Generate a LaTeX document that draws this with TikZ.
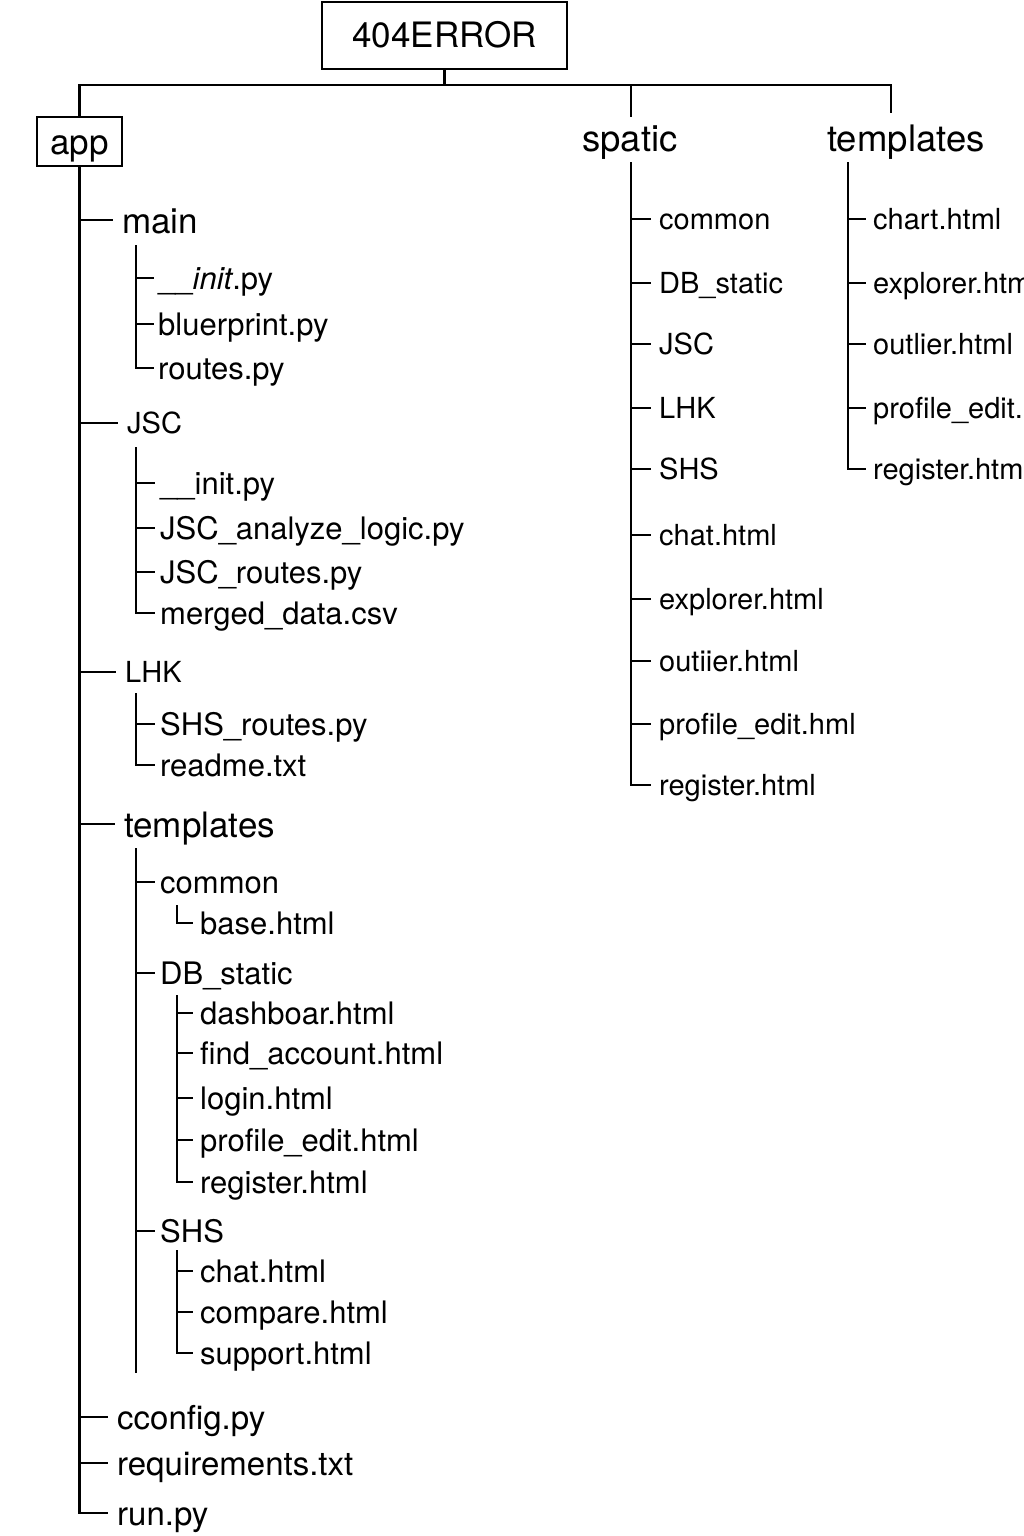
\documentclass[tikz,border=0pt]{standalone}
\usepackage{fontspec}
\setmainfont{TeX Gyre Heros}
\usetikzlibrary{positioning,calc}
\newcommand{\fbig}{\fontsize{35}{40}\selectfont}
\newcommand{\ftop}{\fontsize{36.5}{42}\selectfont}
\newcommand{\ftail}{\fontsize{33}{38}\selectfont}
\newcommand{\ffile}{\fontsize{31}{36}\selectfont}
\newcommand{\fitem}{\fontsize{29}{34}\selectfont}

\begin{document}
\begin{tikzpicture}[x=1pt,y=-1pt,
    lbl/.style={inner sep=0pt,anchor=west},
    dir/.style={lbl,font=\fbig,text height=33pt,text depth=7pt},
    tail/.style={lbl,font=\ftail,text height=31pt,text depth=6.6pt},
    lf/.style={lbl,font=\ffile,text height=29.5pt,text depth=6.2pt},
    fl/.style={lbl,font=\fitem,text height=27.5pt,text depth=5.8pt},
    boxed/.style={draw,line width=1.8pt,inner sep=0pt,font=\fbig,text height=25pt,text depth=0pt},
    trunk/.style={line width=2.8pt},
    twig/.style={line width=1.8pt}
]
\useasboundingbox (0,0) rectangle (1024,1536);

% top level
\node[boxed,minimum width=245pt,minimum height=67pt] (root) at (444.5,35.5) {404ERROR};
\node[boxed,minimum width=85pt,minimum height=49pt] (app) at (79.5,141.5) {app};
\node[lbl,font=\ftop,anchor=center,text height=34.7pt,text depth=7.3pt] (spatic) at (630,138) {spatic};
\node[lbl,font=\ftop,anchor=center,text height=34.7pt,text depth=7.3pt] (tplR) at (906,138) {templates};
\coordinate (bar) at (443,85);
\coordinate (spTop) at (631,117);
\coordinate (tpTop) at (891,113);
\draw[twig,line width=2.2pt] (root.south) -- (root.south |- bar);
\draw[twig,line width=2.2pt] (app.north) |- (bar) -| (tpTop);
\draw[twig,line width=2.2pt] (spTop) -- (spTop |- bar);

% app
\node[dir] (main) at (122,220) {main};
\node[lf] (initA) at (158,278) {\_\_\textit{init}.py};
\node[lf] (blue) at (158,324) {bluerprint.py};
\node[lf] (routes) at (158,368) {routes.py};
\node[fl] (jsc) at (127,423) {JSC};
\node[lf] (initB) at (160,483) {\_\_init.py};
\node[lf] (anal) at (160,528) {JSC\_analyze\_logic.py};
\node[lf] (jroutes) at (160,572) {JSC\_routes.py};
\node[lf] (merged) at (160,613) {merged\_data.csv};
\node[fl] (lhk) at (125,672) {LHK};
\node[lf] (shsr) at (160,724) {SHS\_routes.py};
\node[lf] (readme) at (160,765) {readme.txt};
\node[dir] (tplL) at (124,824) {templates};
\node[lf] (common) at (160,882) {common};
\node[lf] (base) at (200,923) {base.html};
\node[lf] (dbs) at (160,973) {DB\_static};
\node[lf] (dash) at (200,1013) {dashboar.html};
\node[lf] (find) at (200,1053) {find\_account.html};
\node[lf] (login) at (200,1098) {login.html};
\node[lf] (prof) at (200,1140) {profile\_edit.html};
\node[lf] (reg) at (200,1182) {register.html};
\node[lf] (shs) at (160,1231) {SHS};
\node[lf] (chat) at (200,1271) {chat.html};
\node[lf] (cmp) at (200,1312) {compare.html};
\node[lf] (sup) at (200,1353) {support.html};
\node[tail] (cfg) at (117,1417) {cconfig.py};
\node[tail] (req) at (117,1463) {requirements.txt};
\node[tail] (run) at (117,1513) {run.py};

\draw[trunk,shorten >=9pt] (app.south) |- (run.west);
\foreach \n in {main,jsc,lhk,tplL,cfg,req}
  \draw[trunk,shorten >=9pt] (app.south |- \n.west) -- (\n.west);

\coordinate (mainT) at (136,245);
\coordinate (jscT) at (136,447);
\coordinate (lhkT) at (136,693);
\coordinate (tplT) at (136,848);
\coordinate (tplEnd) at (136,1373);
\coordinate (comT) at (177,905);
\coordinate (dbsT) at (177,995);
\coordinate (shsT) at (177,1250);
\draw[twig,shorten >=4pt] (mainT) |- (routes.west);
\foreach \n in {initA,blue}
  \draw[twig,shorten >=4pt] (mainT |- \n.west) -- (\n.west);
\draw[twig,shorten >=5pt] (jscT) |- (merged.west);
\foreach \n in {initB,anal,jroutes}
  \draw[twig,shorten >=5pt] (jscT |- \n.west) -- (\n.west);
\draw[twig,shorten >=5pt] (lhkT) |- (readme.west);
\draw[twig,shorten >=5pt] (lhkT |- shsr.west) -- (shsr.west);
\draw[twig] (tplT) -- (tplEnd);
\foreach \n in {common,dbs,shs}
  \draw[twig,shorten >=5pt] (tplT |- \n.west) -- (\n.west);
\draw[twig,shorten >=7pt] (comT) |- (base.west);
\draw[twig,shorten >=7pt] (dbsT) |- (reg.west);
\foreach \n in {dash,find,login,prof}
  \draw[twig,shorten >=7pt] (dbsT |- \n.west) -- (\n.west);
\draw[twig,shorten >=7pt] (shsT) |- (sup.west);
\foreach \n in {chat,cmp}
  \draw[twig,shorten >=7pt] (shsT |- \n.west) -- (\n.west);

% spatic
\node[fl] (sCommon) at (659,219) {common};
\node[fl] (sDB) at (659,283) {DB\_static};
\node[fl] (sJSC) at (659,344) {JSC};
\node[fl] (sLHK) at (659,408) {LHK};
\node[fl] (sSHS) at (659,469) {SHS};
\node[fl] (sChat) at (659,535) {chat.html};
\node[fl] (sExpl) at (659,599) {explorer.html};
\node[fl] (sOut) at (659,661) {outiier.html};
\node[fl] (sProf) at (659,724) {profile\_edit.hml};
\node[fl] (sReg) at (659,785) {register.html};
\coordinate (spT) at (631,162);
\draw[twig,shorten >=8pt] (spT) |- (sReg.west);
\foreach \n in {sCommon,sDB,sJSC,sLHK,sSHS,sChat,sExpl,sOut,sProf}
  \draw[twig,shorten >=8pt] (spT |- \n.west) -- (\n.west);

% templates
\node[fl] (tChart) at (873,219) {chart.html};
\node[fl] (tExpl) at (873,283) {explorer.html};
\node[fl] (tOut) at (873,344) {outlier.html};
\node[fl] (tProf) at (873,408) {profile\_edit.html};
\node[fl] (tReg) at (873,469) {register.html};
\coordinate (tpT) at (848,162);
\draw[twig,shorten >=7pt] (tpT) |- (tReg.west);
\foreach \n in {tChart,tExpl,tOut,tProf}
  \draw[twig,shorten >=7pt] (tpT |- \n.west) -- (\n.west);
\end{tikzpicture}
\end{document}
